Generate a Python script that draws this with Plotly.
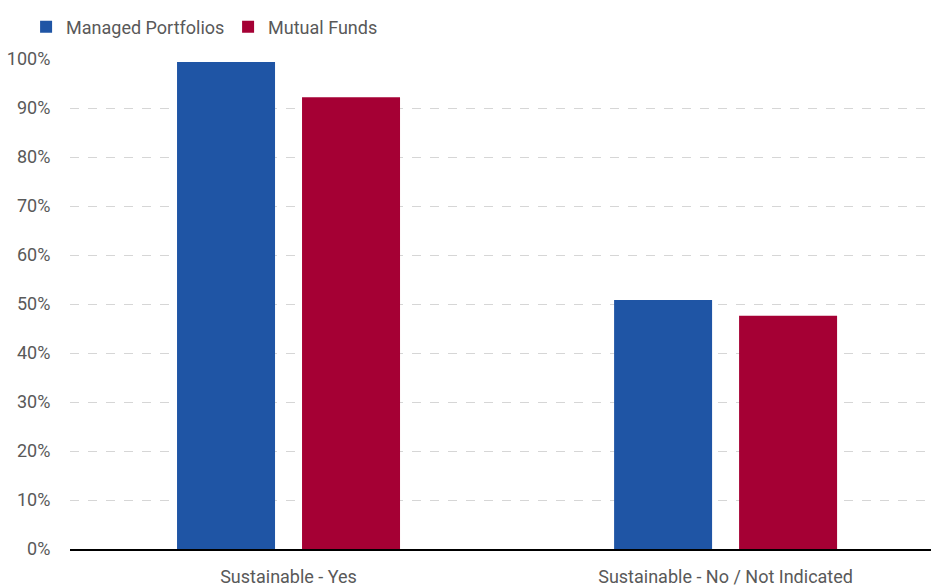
import plotly.graph_objects as go

categories = ["Sustainable - Yes", "Sustainable - No / Not Indicated"]
managed_portfolios = [99.4, 50.8]
mutual_funds = [92.2, 47.6]
series_names = ["Managed Portfolios", "Mutual Funds"]
tick_vals = [0, 10, 20, 30, 40, 50, 60, 70, 80, 90, 100]
tick_text = ["0%", "10%", "20%", "30%", "40%", "50%", "60%", "70%", "80%", "90%", "100%"]

FONT = "Roboto, sans-serif"
TXT = "#595959"

fig = go.Figure()
fig.add_trace(go.Bar(x=categories, y=managed_portfolios, name=series_names[0],
                     marker=dict(color="#1F55A5", line=dict(width=0))))
fig.add_trace(go.Bar(x=categories, y=mutual_funds, name=series_names[1],
                     marker=dict(color="#A50034", line=dict(width=0))))

fig.update_layout(
    width=931, height=586,
    margin=dict(l=70, r=0, t=59, b=37),
    paper_bgcolor="white", plot_bgcolor="white",
    barmode="group", bargap=0.428, bargroupgap=0.216,
    font=dict(family=FONT, size=18, color=TXT),
    legend=dict(orientation="h", x=-0.051, xanchor="left", y=1.065, yanchor="middle",
                font=dict(family=FONT, size=18, color=TXT), entrywidth=157,
                bgcolor="rgba(0,0,0,0)"),
    xaxis=dict(range=[-0.5, 1.47], showgrid=False, showline=True, linecolor="black",
               linewidth=2, ticks="outside", ticklen=10, tickcolor="rgba(0,0,0,0)",
               automargin=False, tickfont=dict(family=FONT, size=18, color=TXT)),
    yaxis=dict(range=[0, 100], tickmode="array", tickvals=tick_vals, ticktext=tick_text,
               showgrid=True, gridcolor="#d6d6d6", griddash="dash", gridwidth=1,
               zeroline=False, ticks="outside", ticklen=15, tickcolor="rgba(0,0,0,0)",
               automargin=False, tickfont=dict(family=FONT, size=18, color=TXT)),
)

fig.write_html("out.html")
